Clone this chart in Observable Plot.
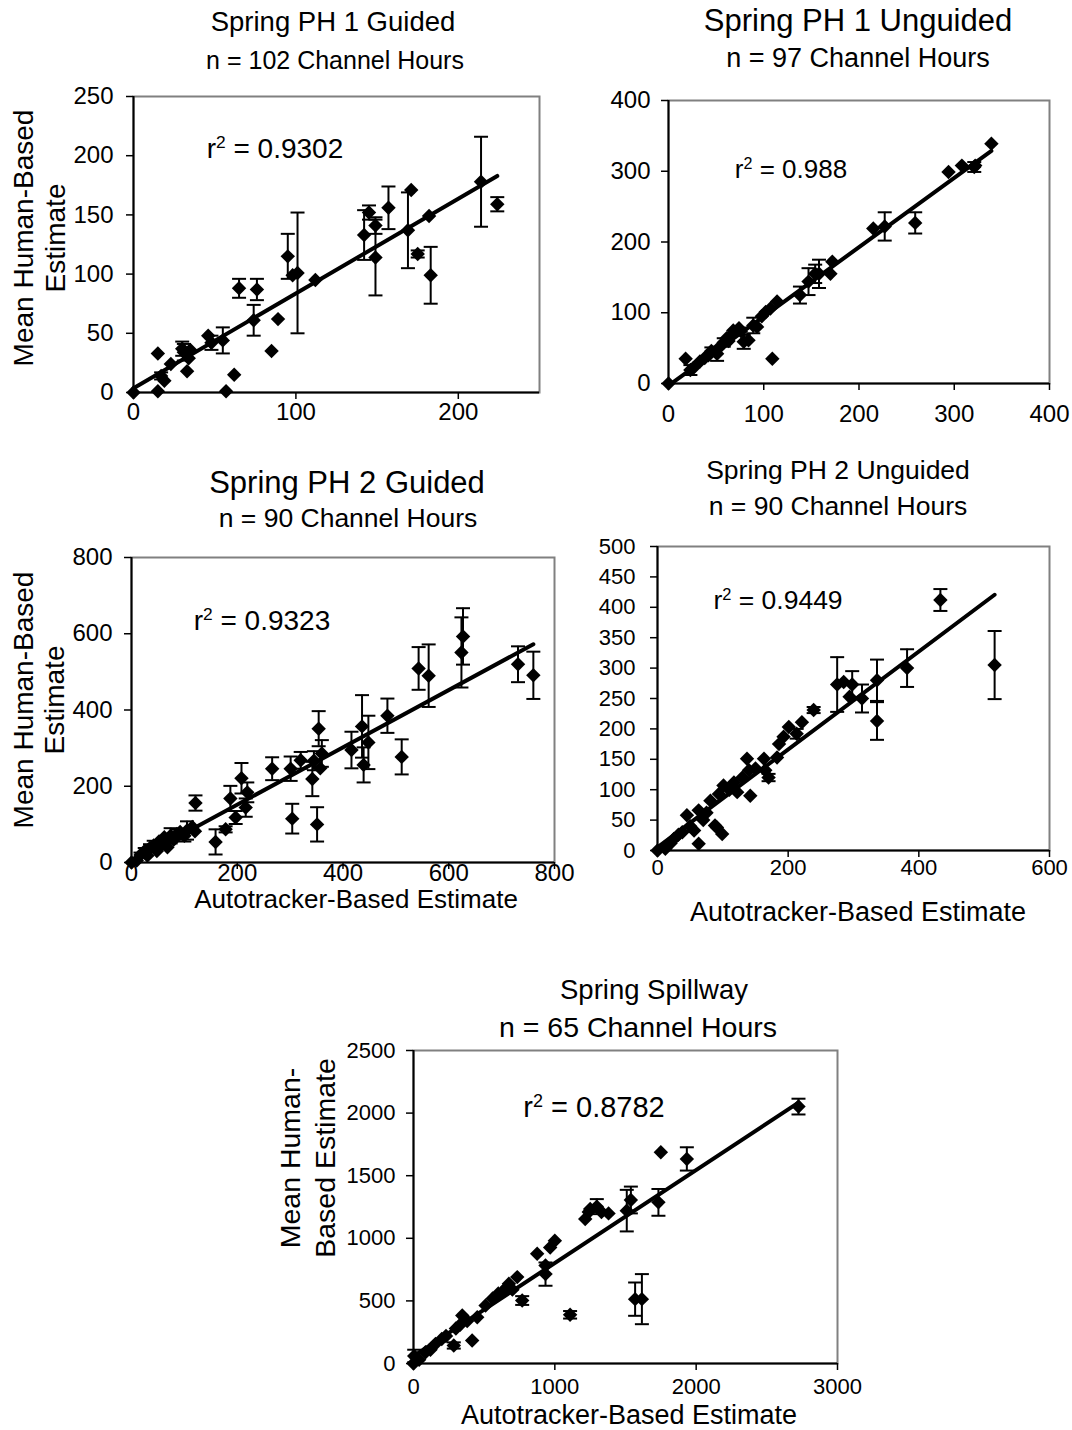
<!DOCTYPE html>
<html>
<head>
<meta charset="utf-8">
<script src="https://cdn.jsdelivr.net/npm/d3@7"></script>
<script src="https://cdn.jsdelivr.net/npm/@observablehq/plot@0.6"></script>
<style>
  body { margin: 0; background: #fff; }
  #page { position: relative; width: 1072px; height: 1430px; overflow: hidden;
          font-family: "Liberation Sans", Arial, sans-serif; color: #000; }
  .lbl { position: absolute; white-space: nowrap; line-height: 1; text-align: center; }
  .lbl sup { font-size: 0.62em; position: relative; top: -0.55em; vertical-align: baseline; line-height: 0; }
  .panel { position: absolute; }
</style>
</head>
<body>
<div id="page"></div>
<script>
// Each row: [autotracker-based estimate, mean human-based estimate, error-bar half-length]
const ph1Guided = [
  [0,0,0],[15,33,0],[15,1,0],[17,14,3],[19,10,0],[23,24,0],[30,37,6],[31,34,7],[33,18,0],
  [34,29,0],[35,36,0],[46,48,0],[48,42,6],[55,44,11],[57,1,0],[62,15,0],[65,88,8],[74,61,13],
  [76,87,9],[85,35,0],[89,62,0],[95,115,19],[98,99,0],[101,101,51],[112,95,0],[142,133,21],
  [145,152,6],[149,141,7],[149,114,32],[157,156,18],[169,137,32],[171,171,0],[175,117,3],
  [182,149,0],[183,99,24],[214,178,38],[224,159,6]
];
const ph1Unguided = [
  [0,0,0],[18,35,0],[23,19,7],[26,22,0],[33,31,0],[38,36,0],[42,40,0],[45,46,5],[51,42,10],
  [54,52,0],[58,58,6],[61,64,0],[63,60,0],[66,68,0],[68,75,0],[74,78,0],[76,74,5],[79,59,10],
  [84,61,0],[89,82,11],[93,80,0],[98,95,0],[102,101,0],[107,106,0],[109,35,0],[114,116,0],
  [138,125,12],[147,144,19],[154,155,13],[158,155,20],[170,155,0],[172,172,0],[215,219,0],
  [227,222,20],[259,227,15],[294,299,0],[308,308,0],[321,306,7],[322,308,0],[339,339,0]
];
const ph2Guided = [
  [0,0,0],[10,5,0],[17,20,6],[25,30,8],[30,18,0],[35,38,10],[42,45,12],[48,30,0],[52,55,0],
  [58,48,10],[62,66,0],[68,40,0],[74,70,20],[80,60,0],[86,75,12],[92,80,0],[100,70,15],
  [105,84,24],[115,93,0],[120,82,0],[121,156,20],[159,54,33],[178,87,8],[187,168,33],
  [197,118,17],[208,221,40],[216,144,24],[219,184,26],[266,246,30],[301,246,32],[304,115,39],
  [320,268,22],[342,219,45],[345,267,25],[351,100,45],[354,351,46],[357,247,0],[360,286,35],
  [416,295,48],[436,357,82],[439,256,46],[448,315,70],[484,385,45],[511,277,46],[543,509,56],
  [562,490,82],[624,551,92],[627,593,74],[731,520,47],[760,491,62]
];
const ph2Unguided = [
  [0,0,0],[12,3,0],[20,12,0],[25,19,0],[32,26,0],[38,30,0],[45,58,0],[50,40,0],[56,33,0],
  [63,66,0],[63,11,0],[70,50,0],[75,62,0],[81,82,0],[88,41,0],[91,38,0],[94,93,0],[99,27,0],
  [101,107,0],[110,100,0],[117,112,0],[122,96,0],[130,120,0],[137,151,0],[140,132,0],
  [142,90,0],[150,135,0],[163,151,0],[165,132,0],[170,120,6],[183,153,0],[186,175,0],
  [193,187,0],[201,203,0],[213,192,8],[221,211,0],[239,231,5],[275,273,45],[285,277,0],
  [294,253,0],[298,273,22],[313,250,23],[336,280,34],[336,213,31],[382,300,31],[433,412,18],
  [516,305,56]
];
const spillway = [
  [0,0,0],[5,60,50],[40,30,0],[85,90,0],[120,110,0],[156,157,0],[200,195,0],[230,220,0],
  [285,144,25],[300,280,0],[330,310,0],[345,383,0],[380,340,0],[415,184,0],[451,370,0],
  [510,463,0],[560,520,0],[600,560,0],[628,570,0],[660,610,0],[675,637,0],[700,590,0],
  [734,690,0],[769,503,35],[875,876,0],[934,783,0],[934,714,93],[967,927,0],[1000,980,0],
  [1108,389,30],[1215,1154,0],[1240,1210,0],[1250,1234,0],[1297,1253,60],[1330,1210,0],
  [1380,1199,0],[1509,1221,166],[1538,1306,107],[1568,514,133],[1616,514,200],
  [1733,1287,107],[1750,1687,0],[1934,1634,93],[2724,2052,63]
];

const titles = ["Spring PH 1 Guided", "Spring PH 1 Unguided", "Spring PH 2 Guided", "Spring PH 2 Unguided", "Spring Spillway"];
const subtitles = ["n = 102 Channel Hours", "n = 97 Channel Hours", "n = 90 Channel Hours", "n = 90 Channel Hours", "n = 65 Channel Hours"];
const rSquared = ["0.9302", "0.988", "0.9323", "0.9449", "0.8782"];
const xLabel = "Autotracker-Based Estimate";
const yLabelLines = [["Mean Human-Based", "Estimate"], ["Mean Human-", "Based Estimate"]];

const xMax = [250, 400, 800, 600, 3000];
const yMax = [250, 400, 800, 500, 2500];
const xTicks = [
  [0, 100, 200],
  [0, 100, 200, 300, 400],
  [0, 200, 400, 600, 800],
  [0, 200, 400, 600],
  [0, 1000, 2000, 3000]
];
const yTicks = [
  [0, 50, 100, 150, 200, 250],
  [0, 100, 200, 300, 400],
  [0, 200, 400, 600, 800],
  [0, 50, 100, 150, 200, 250, 300, 350, 400, 450, 500],
  [0, 500, 1000, 1500, 2000, 2500]
];

const datasets = [ph1Guided, ph1Unguided, ph2Guided, ph2Unguided, spillway];

// Page placement of each panel: plot frame [left, top, right, bottom] and text placement
const layout = [
  { frame: [133, 96, 539, 392], tick: 24, yGap: 20, xPad: 3,
    title: [333, 22, 27.5], sub: [335, 60, 25], r2: [275, 149, 28],
    yLab: { lines: 0, x: [24, 56], cy: 238, size: 28 } },
  { frame: [668, 100, 1049, 383], tick: 24, yGap: 18, xPad: 14,
    title: [858, 20, 31], sub: [858, 58, 27], r2: [791, 169, 26] },
  { frame: [131, 557, 554, 862], tick: 24, yGap: 19, xPad: -6,
    title: [347, 482, 31], sub: [348, 518, 26.5], r2: [262, 621, 28],
    xLab: [356, 899, 26],
    yLab: { lines: 0, x: [24, 55], cy: 700, size: 28 } },
  { frame: [657, 546, 1049, 850], tick: 22, yGap: 22, xPad: 1.5,
    title: [838, 470, 26.5], sub: [838, 506, 26.5], r2: [778, 600, 26.5],
    xLab: [858, 912, 27] },
  { frame: [413, 1050, 837, 1363], tick: 22, yGap: 18, xPad: 8,
    title: [654, 990, 27.5], sub: [638, 1027, 28.5], r2: [594, 1107, 29],
    xLab: [629, 1415, 27],
    yLab: { lines: 1, x: [290, 325], cy: 1158, size: 28.5 } }
];

const FONT = '"Liberation Sans", Arial, sans-serif';
const page = document.getElementById("page");

// Horizontal bar used as the error-bar cap
const capSymbol = {
  draw(context, size) {
    const w = Math.sqrt(size / Math.PI);
    context.moveTo(-w, 0);
    context.lineTo(w, 0);
  }
};

function addLabel(html, cx, cy, size, rotate) {
  const el = document.createElement("div");
  el.className = "lbl";
  el.innerHTML = html;
  el.style.fontSize = size + "px";
  el.style.left = cx + "px";
  el.style.top = cy + "px";
  el.style.transform = "translate(-50%, -50%)" + (rotate ? " rotate(-90deg)" : "");
  page.appendChild(el);
  return el;
}

function drawPanel(i) {
  const data = datasets[i];
  const L = layout[i];
  const [left, top, right, bottom] = L.frame;
  const mL = 90, mR = 30, mT = 20, mB = 50;
  const bars = data.filter(d => d[2] > 0);
  const caps = bars.flatMap(d => [[d[0], d[1] - d[2]], [d[0], d[1] + d[2]]]);

  const svg = Plot.plot({
    width: right - left + mL + mR,
    height: bottom - top + mT + mB,
    marginLeft: mL, marginRight: mR, marginTop: mT, marginBottom: mB,
    x: { domain: [0, xMax[i]] },
    y: { domain: [0, yMax[i]] },
    style: { fontFamily: FONT, fontSize: L.tick + "px", color: "#000", background: "transparent", overflow: "visible" },
    marks: [
      Plot.frame({ stroke: "#808080", strokeWidth: 2 }),
      Plot.ruleX([0], { stroke: "#000", strokeWidth: 2 }),
      Plot.ruleY([0], { stroke: "#000", strokeWidth: 2 }),
      Plot.axisX({ ticks: xTicks[i], tickSize: 7, tickPadding: L.xPad, tickFormat: d => String(d), label: null, strokeWidth: 1.5 }),
      Plot.axisY({ ticks: yTicks[i], tickSize: 7, tickPadding: L.yGap - 7, tickFormat: d => String(d), label: null, strokeWidth: 1.5 }),
      Plot.ruleX(bars, { x: d => d[0], y1: d => d[1] - d[2], y2: d => d[1] + d[2], stroke: "#000", strokeWidth: 2 }),
      Plot.dot(caps, { x: d => d[0], y: d => d[1], symbol: capSymbol, r: 7, stroke: "#000", strokeWidth: 2, fill: "none" }),
      Plot.linearRegressionY(data, { x: d => d[0], y: d => d[1], ci: 0, stroke: "#000", strokeWidth: 4 }),
      Plot.dot(data, { x: d => d[0], y: d => d[1], symbol: "diamond2", r: 6.5, fill: "#000", stroke: "none" })
    ]
  });
  svg.classList.add("panel");
  svg.style.left = (left - mL) + "px";
  svg.style.top = (top - mT) + "px";
  page.appendChild(svg);

  addLabel(titles[i], L.title[0], L.title[1], L.title[2]);
  addLabel(subtitles[i], L.sub[0], L.sub[1], L.sub[2]);
  addLabel("r<sup>2</sup> = " + rSquared[i], L.r2[0], L.r2[1], L.r2[2]);
  if (L.xLab) addLabel(xLabel, L.xLab[0], L.xLab[1], L.xLab[2]);
  if (L.yLab) {
    yLabelLines[L.yLab.lines].forEach((line, k) =>
      addLabel(line, L.yLab.x[k], L.yLab.cy, L.yLab.size, true));
  }
}

datasets.forEach((_, i) => drawPanel(i));
</script>
</body>
</html>
